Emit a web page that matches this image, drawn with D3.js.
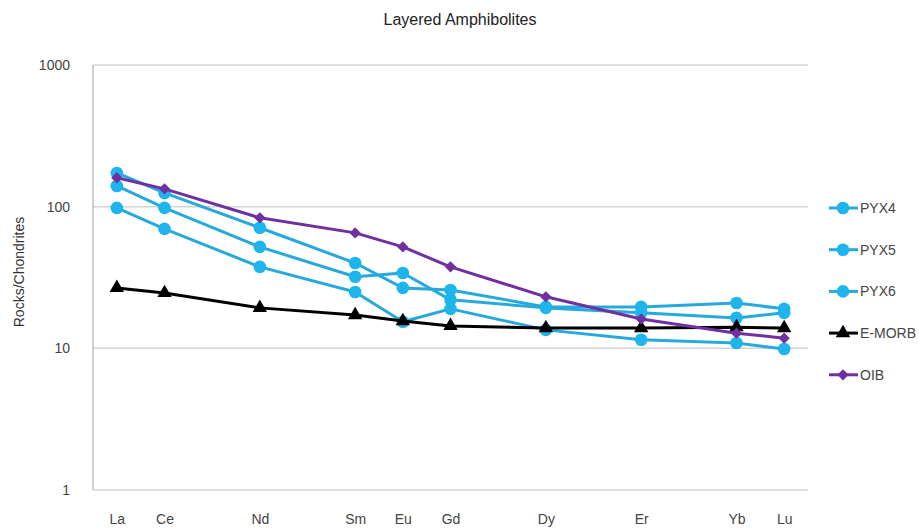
<!DOCTYPE html>
<html>
<head>
<meta charset="utf-8">
<script src="https://cdn.jsdelivr.net/npm/d3@7"></script>
<style>
  body { margin: 0; background: #fff; }
  svg { display: block; font-family: "Liberation Sans", Arial, sans-serif; }
</style>
</head>
<body>
<div id="chart"></div>
<script>
"use strict";
// REE elements, placed on x by atomic number
const elements = ["La", "Ce", "Nd", "Sm", "Eu", "Gd", "Dy", "Er", "Yb", "Lu"];
const atomicNumbers = [57, 58, 60, 62, 63, 64, 66, 68, 70, 71];
const yTicks = [1, 10, 100, 1000];

// chondrite-normalised values
const pyx4 = [173, 125, 71, 40, 26.7, 25.8, 19.6, 19.6, 20.9, 19.0];
const pyx5 = [140, 98, 52, 32, 34, 22, 19.3, 17.8, 16.4, 17.8];
const pyx6 = [98, 69.7, 37.6, 25, 15.4, 19.0, 13.5, 11.5, 10.9, 9.9];
const emorb = [26.7, 24.6, 19.3, 17.2, 15.6, 14.4, 13.9, 13.9, 14.1, 13.9];
const oib = [160, 133.6, 83.4, 65.3, 52, 37.6, 23.1, 16.1, 12.8, 11.8];

const seriesNames = ["PYX4", "PYX5", "PYX6", "E-MORB", "OIB"];
const seriesValues = [pyx4, pyx5, pyx6, emorb, oib];
const seriesStyle = {
    "PYX4": { line: "#27a9dc", fill: "#1db5ec", shape: "circle" },
    "PYX5": { line: "#27a9dc", fill: "#1db5ec", shape: "circle" },
    "PYX6": { line: "#27a9dc", fill: "#1db5ec", shape: "circle" },
    "E-MORB": { line: "#000000", fill: "#000000", shape: "triangle" },
    "OIB": { line: "#7030a0", fill: "#7030a0", shape: "diamond" }
};

const width = 919, height = 529;
const plot = { left: 93, right: 808, top: 65, bottom: 490 };

const svg = d3.select("#chart").append("svg")
    .attr("width", width)
    .attr("height", height);

const x = d3.scaleLinear().domain([56.5, 71.5]).range([plot.left, plot.right]);
const y = d3.scaleLog().domain([1, 1000]).range([plot.bottom, plot.top]);

// title
svg.append("text")
    .attr("x", 460).attr("y", 25)
    .attr("text-anchor", "middle")
    .style("font-size", "16px")
    .style("fill", "#222")
    .text("Layered Amphibolites");

// gridlines
svg.append("g")
    .selectAll("line")
    .data(yTicks)
    .enter().append("line")
    .attr("x1", plot.left).attr("x2", plot.right)
    .attr("y1", d => y(d)).attr("y2", d => y(d))
    .style("stroke", "#d4d4d4")
    .style("stroke-width", "1.5px");

// left axis line
svg.append("line")
    .attr("x1", plot.left).attr("x2", plot.left)
    .attr("y1", plot.top).attr("y2", plot.bottom)
    .style("stroke", "#a0a0a0")
    .style("stroke-width", "1px");

// y axis labels
const yAxis = d3.axisLeft(y).tickValues(yTicks).tickFormat(d3.format("d")).tickSize(0).tickPadding(23);
const yg = svg.append("g").attr("transform", `translate(${plot.left},0)`).call(yAxis);
yg.select(".domain").remove();
yg.selectAll("text").style("font-size", "14px").style("fill", "#444").style("font-family", "Liberation Sans, Arial, sans-serif");

// x axis labels
const xAxis = d3.axisBottom(x).tickValues(atomicNumbers)
    .tickFormat((d, i) => elements[i]).tickSize(0).tickPadding(24);
const xg = svg.append("g").attr("transform", `translate(0,${plot.bottom})`).call(xAxis);
xg.select(".domain").remove();
xg.selectAll("text").style("font-size", "14px").style("fill", "#444").style("font-family", "Liberation Sans, Arial, sans-serif");

// y axis title
svg.append("text")
    .attr("transform", "translate(24,272) rotate(-90)")
    .attr("text-anchor", "middle")
    .style("font-size", "14px")
    .style("fill", "#333")
    .text("Rocks/Chondrites");

const line = d3.line()
    .x((d, i) => x(atomicNumbers[i]))
    .y(d => y(d));

// square diamond like the spreadsheet marker
const squareDiamond = {
    draw(context, size) {
        const r = Math.sqrt(size / 2);
        context.moveTo(0, -r);
        context.lineTo(r, 0);
        context.lineTo(0, r);
        context.lineTo(-r, 0);
        context.closePath();
    }
};

function symbolFor(shape) {
    if (shape === "triangle") return d3.symbol().type(d3.symbolTriangle).size(90)();
    if (shape === "diamond") return d3.symbol().type(squareDiamond).size(64)();
    return d3.symbol().type(d3.symbolCircle).size(125)();
}

// series: draw PYX first, then E-MORB, then OIB on top
const series = svg.append("g").attr("class", "series")
    .selectAll("g")
    .data(seriesNames)
    .enter().append("g");

series.append("path")
    .attr("d", (d, i) => line(seriesValues[i]))
    .style("fill", "none")
    .style("stroke", d => seriesStyle[d].line)
    .style("stroke-width", "3px")
    .style("stroke-linejoin", "round");

series.each(function (name, si) {
    d3.select(this).selectAll("path.marker")
        .data(seriesValues[si])
        .enter().append("path")
        .attr("class", "marker")
        .attr("transform", (d, i) => `translate(${x(atomicNumbers[i])},${y(d)})`)
        .attr("d", symbolFor(seriesStyle[name].shape))
        .style("fill", seriesStyle[name].fill);
});

// legend
const legend = svg.append("g").attr("class", "legend")
    .selectAll("g")
    .data(seriesNames)
    .enter().append("g")
    .attr("transform", (d, i) => `translate(829,${208 + i * 41.7})`);

legend.append("line")
    .attr("x1", 0).attr("x2", 29)
    .style("stroke", d => seriesStyle[d].line)
    .style("stroke-width", "3px");

legend.append("path")
    .attr("transform", "translate(14,0)")
    .attr("d", d => symbolFor(seriesStyle[d].shape))
    .style("fill", d => seriesStyle[d].fill);

legend.append("text")
    .attr("x", 31).attr("y", 0)
    .attr("dominant-baseline", "central")
    .style("font-size", "14px")
    .style("fill", "#444")
    .text(d => d);
</script>
</body>
</html>
